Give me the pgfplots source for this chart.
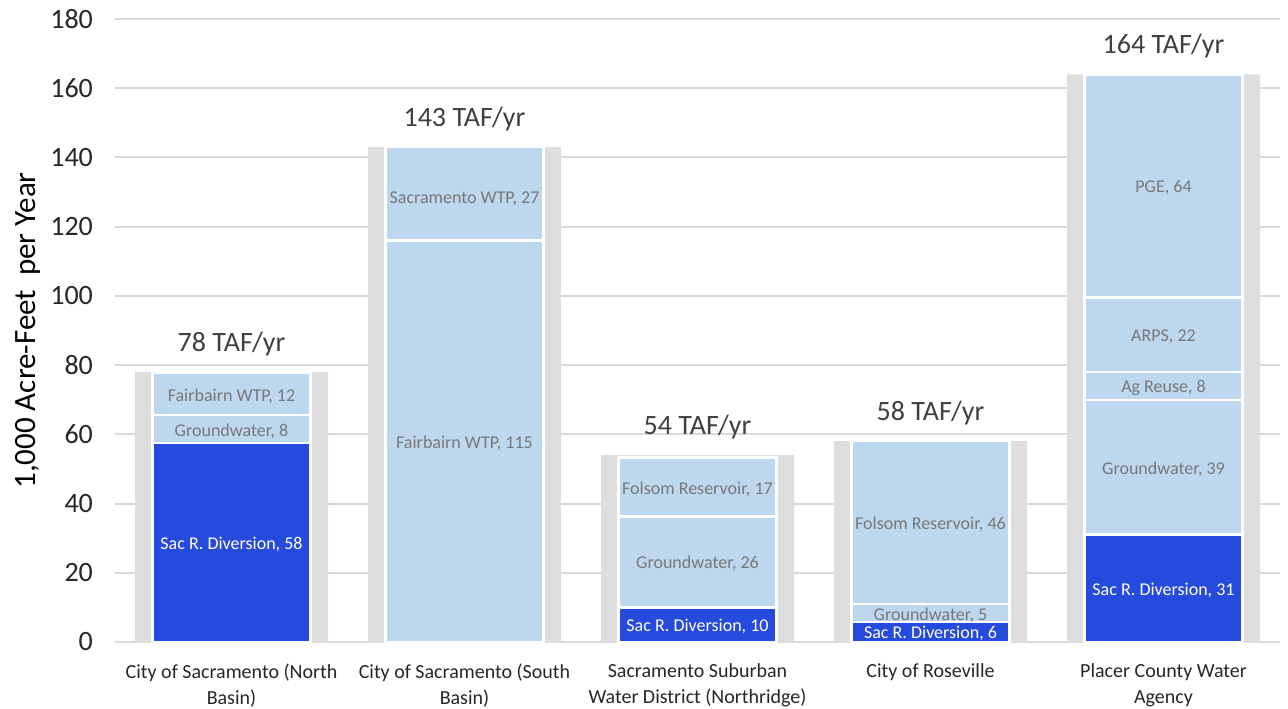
\documentclass[border=0pt]{standalone}
\usepackage{fontspec}
\setmainfont{Carlito}
\usepackage{pgfplots}
\pgfplotsset{compat=1.18}

\definecolor{sacblue}{RGB}{38,75,220}
\definecolor{lightblue}{RGB}{189,215,238}
\definecolor{totalgray}{RGB}{222,222,222}
\definecolor{gridgray}{RGB}{217,217,217}
\definecolor{segtext}{RGB}{120,120,120}
\definecolor{darktext}{RGB}{64,64,64}
\definecolor{ticktext}{RGB}{38,38,38}

\tikzset{lbl/.style={font=\fontsize{9}{11}\selectfont, text=segtext, yshift=-1pt},
  lblw/.style={font=\fontsize{9}{11}\selectfont, text=white, yshift=-1pt}}

\begin{document}
\begin{tikzpicture}
\pgfplotsset{
  base/.style={width=582.5pt, height=311.5pt, scale only axis,
    xmin=-0.5, xmax=4.5, ymin=0, ymax=180, clip=false},
}
% gray totals, grid, ticks
\begin{axis}[base, name=main,
  ybar, bar width=96.5pt, bar shift=0pt,
  axis line style={draw=none},
  ymajorgrids, grid style={draw=gridgray, line width=1pt},
  tick style={draw=none},
  ytick={0,20,...,180},
  /pgf/number format/assume math mode=true,
  yticklabel style={font=\fontsize{14}{16}\selectfont, text=ticktext, xshift=-7.5pt},
  xtick={0,...,4},
  xticklabels={City of Sacramento (North\\Basin),
    City of Sacramento (South\\Basin),
    Sacramento Suburban\\Water District (Northridge),
    City of Roseville,
    Placer County Water\\Agency},
  xticklabel style={font=\fontsize{10}{13}\selectfont, text=ticktext, align=center, yshift=-3pt},
  ylabel={1,000 Acre-Feet\ \ per Year},
  ylabel style={at={(axis description cs:-0.0747,0.5)}, anchor=center,
    font=\fontsize{15.5}{17}\selectfont, text=black},
  nodes near coords={\pgfmathprintnumber{\pgfplotspointmeta} TAF/yr},
  every node near coord/.append style={font=\fontsize{14}{16}\selectfont,
    text=darktext, yshift=4.5pt},
  ]
\addplot[fill=totalgray, draw=none] coordinates {(0,78) (1,143) (2,54) (3,58) (4,164)};
\end{axis}

% stacked sources
\begin{axis}[base, hide axis, ybar stacked, bar width=79pt]
\addplot[draw=white, line width=1.2pt, fill=sacblue] coordinates {(0,57.5) (1,0) (2,10) (3,5.8) (4,31)};
\addplot[draw=white, line width=1.2pt, fill=lightblue] coordinates {(0,8) (1,116) (2,26.3) (3,5.2) (4,39)};
\addplot[draw=white, line width=1.2pt, fill=lightblue] coordinates {(0,12.2) (1,27) (2,17) (3,47) (4,8)};
\addplot[draw=white, line width=1.2pt, fill=lightblue] coordinates {(0,0) (1,0) (2,0) (3,0) (4,21.5)};
\addplot[draw=white, line width=1.2pt, fill=lightblue] coordinates {(0,0) (1,0) (2,0) (3,0) (4,64.5)};
\end{axis}

% segment labels on top
\begin{axis}[base, hide axis]
\node[lblw] at (axis cs:0,28.75) {Sac R. Diversion, 58};
\node[lbl] at (axis cs:0,61.5) {Groundwater, 8};
\node[lbl] at (axis cs:0,71.6) {Fairbairn WTP, 12};
\node[lbl] at (axis cs:1,58) {Fairbairn WTP, 115};
\node[lbl] at (axis cs:1,128.5) {Sacramento WTP, 27};
\node[lblw] at (axis cs:2,5) {Sac R. Diversion, 10};
\node[lbl] at (axis cs:2,23.2) {Groundwater, 26};
\node[lbl] at (axis cs:2,44.8) {Folsom Reservoir, 17};
\node[lblw] at (axis cs:3,2.9) {Sac R. Diversion, 6};
\node[lbl] at (axis cs:3,8.4) {Groundwater, 5};
\node[lbl] at (axis cs:3,34.5) {Folsom Reservoir, 46};
\node[lblw] at (axis cs:4,15.5) {Sac R. Diversion, 31};
\node[lbl] at (axis cs:4,50.5) {Groundwater, 39};
\node[lbl] at (axis cs:4,74) {Ag Reuse, 8};
\node[lbl] at (axis cs:4,88.75) {ARPS, 22};
\node[lbl] at (axis cs:4,131.75) {PGE, 64};
\end{axis}

\pgfresetboundingbox
\path ([xshift=-57.5pt,yshift=-33.5pt]main.south west) rectangle ([xshift=4pt,yshift=9.5pt]main.north east);
\end{tikzpicture}
\end{document}
